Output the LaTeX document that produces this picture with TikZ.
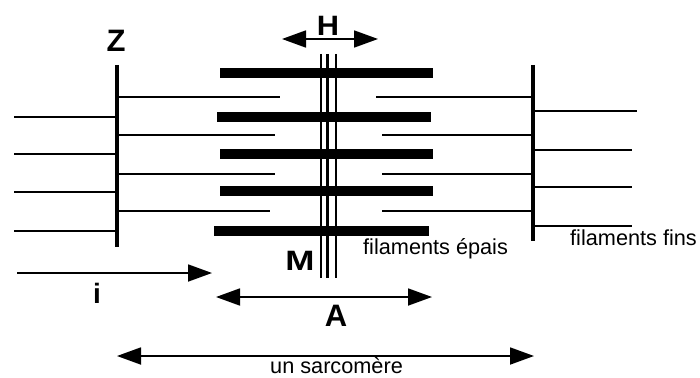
\documentclass[tikz,border=0pt]{standalone}
\usepackage{fontspec}
\setmainfont{Liberation Sans}
\usetikzlibrary{arrows.meta}
\tikzset{
  thinfil/.style={line width=1.8pt},
  zline/.style={line width=4.5pt},
  thickfil/.style={line width=10pt},
  mthin/.style={line width=1.5pt},
  mthick/.style={line width=3pt},
  dimarrow/.style={line width=1.8pt, {Triangle[length=24pt,width=17pt]}-{Triangle[length=24pt,width=17pt]}},
  onearrow/.style={line width=1.8pt, -{Triangle[length=24pt,width=17pt]}},
  biglabel/.style={inner sep=0pt, font=\fontsize{31}{31}\selectfont\bfseries},
  midlabel/.style={inner sep=0pt, font=\fontsize{28}{28}\selectfont\bfseries},
  txtlabel/.style={inner sep=0pt, anchor=base west, font=\fontsize{21.7}{22}\selectfont}
}
\begin{document}
\begin{tikzpicture}[x=1pt,y=-1pt]
\useasboundingbox (0,0) rectangle (700,377);
% Z lines
\coordinate (zlt) at (117,65); \coordinate (zlb) at (117,247);
\coordinate (zrt) at (533,65); \coordinate (zrb) at (533,241);
\draw[zline] (zlt) -- (zlb);
\draw[zline] (zrt) -- (zrb);
% thin filaments attached to left Z (inside)
\foreach \y/\e in {97/280,135/275,174/275,211/270}
  \draw[thinfil] (117,\y) -- (\e,\y);
% thin filaments attached to right Z (inside)
\foreach \y/\s in {97/376,135/382,174/382,211/382}
  \draw[thinfil] (\s,\y) -- (533,\y);
% outer thin filaments left
\foreach \y in {117,154,192,231}
  \draw[thinfil] (14,\y) -- (117,\y);
% outer thin filaments right
\foreach \y/\e in {111/637,150/632,187/632,226/632}
  \draw[thinfil] (533,\y) -- (\e,\y);
% thick filaments
\foreach \y/\s/\e in {73/220/433,117/217/431,154/220/433,191/220/433,231/214/429}
  \draw[thickfil] (\s,\y) -- (\e,\y);
% M line
\draw[mthin] (321,54) -- (321,278);
\draw[mthick] (327,54) -- (327,278);
\draw[mthin] (336,54) -- (336,278);
% H arrow
\coordinate (hl) at (282,39); \coordinate (hr) at (378,39);
\draw[dimarrow] (hl) -- (hr);
% i arrow
\coordinate (il) at (17,273); \coordinate (ir) at (212,273);
\draw[onearrow] (il) -- (ir);
% A arrow
\coordinate (al) at (216,297); \coordinate (ar) at (432,297);
\draw[dimarrow] (al) -- (ar);
% sarcomere arrow
\coordinate (sl) at (117,356); \coordinate (sr) at (534,356);
\draw[dimarrow] (sl) -- (sr);
% labels
\node[biglabel] (Z) at (116,40.5) {Z};
\node[midlabel, xscale=1.1] (H) at (328,26) {H};
\node[midlabel, xscale=1.25] (M) at (300,260.5) {M};
\node[midlabel] (i) at (97,293.5) {i};
\node[biglabel] (A) at (336,315.5) {A};
\node[txtlabel] (ep) at (363,254) {filaments épais};
\node[txtlabel] (fi) at (570,245) {filaments fins};
\node[txtlabel] (sa) at (270,373) {un sarcomère};
\end{tikzpicture}
\end{document}
